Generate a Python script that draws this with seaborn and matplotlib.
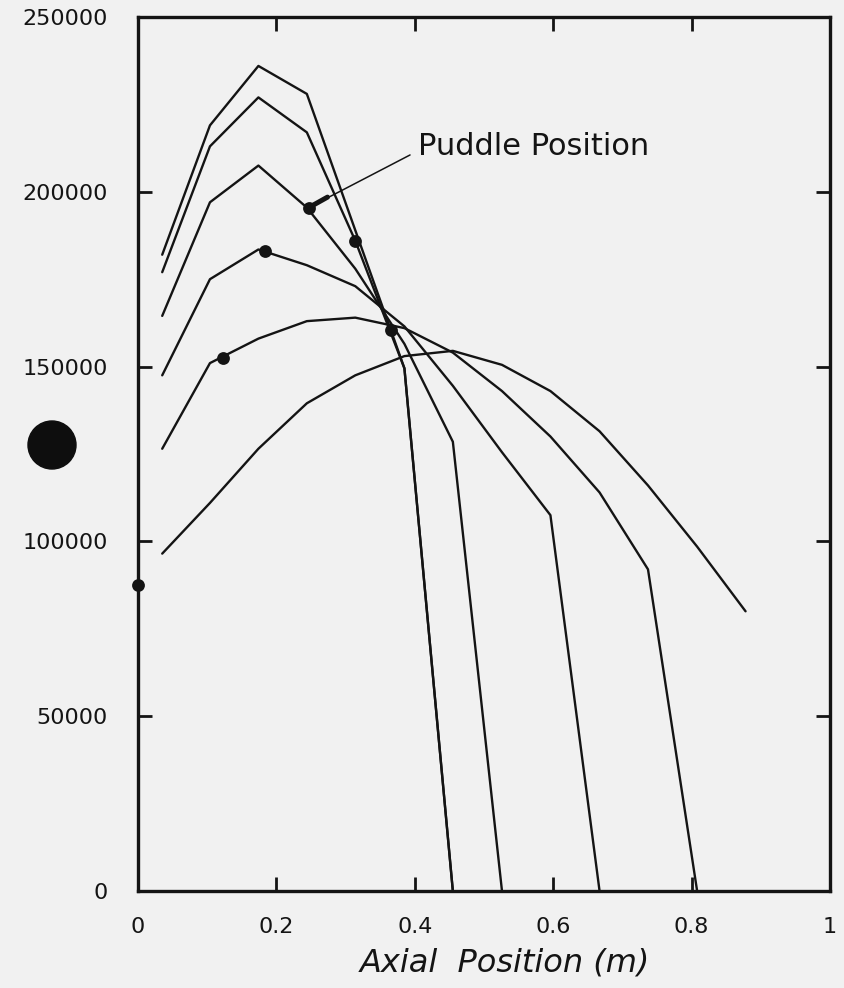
import matplotlib
matplotlib.use("Agg")
import matplotlib.pyplot as plt
from matplotlib.patches import Ellipse
import pandas as pd
import seaborn as sns

# Axial sampling nodes (m) shared by every heat-flux profile
axial_nodes = [0.035, 0.104, 0.174, 0.244, 0.314, 0.385, 0.455,
               0.526, 0.596, 0.667, 0.737, 0.808, 0.878]

# Heat-flux profiles, one value per node until the profile ends
flux_a = [182000, 219000, 236000, 228000, 189000, 149500, 0]
flux_b = [177000, 213000, 227000, 217000, 186000, 149500, 0]
flux_c = [164500, 197000, 207500, 195500, 178000, 156500, 128500, 0]
flux_d = [147500, 175000, 183500, 179000, 173000, 161500, 144500,
          125500, 107500, 0]
flux_e = [126500, 151000, 158000, 163000, 164000, 161000, 154000,
          143000, 130000, 114000, 92000, 0]
flux_f = [96500, 111000, 126500, 139500, 147500, 153000, 154500,
          150500, 143000, 131500, 116000, 98500, 80000]

# Puddle position on each profile
puddle_x = [0.0, 0.123, 0.184, 0.247, 0.314, 0.365]
puddle_y = [87500, 152500, 183000, 195500, 186000, 160500]

x_ticks = [0, 0.2, 0.4, 0.6, 0.8, 1.0]
x_tick_labels = ["0", "0.2", "0.4", "0.6", "0.8", "1"]
y_ticks = [0, 50000, 100000, 150000, 200000, 250000]
y_tick_labels = ["0", "50000", "100000", "150000", "200000", "250000"]

profiles = {"a": flux_a, "b": flux_b, "c": flux_c,
            "d": flux_d, "e": flux_e, "f": flux_f}
rows = []
for name, values in profiles.items():
    for pos, val in zip(axial_nodes, values):
        rows.append({"profile": name, "axial": pos, "flux": val})
df = pd.DataFrame(rows)

sns.set_style("ticks")
paper = "#f1f1f1"
ink = "#141414"
plt.rcParams["font.family"] = ["DejaVu Sans"]

fig = plt.figure(figsize=(8.44, 9.88), dpi=100, facecolor=paper)
ax = fig.add_axes([0.1635, 0.0982, 0.8199, 0.8846])
ax.set_facecolor(paper)

sns.lineplot(data=df, x="axial", y="flux", units="profile", estimator=None,
             sort=False, color=ink, linewidth=1.7, ax=ax, legend=False)
sns.scatterplot(x=puddle_x, y=puddle_y, color=ink, s=85, edgecolor=ink,
                linewidth=0, zorder=5, clip_on=False, ax=ax, legend=False)

# Leader from the annotation text to a puddle marker
anchor = (puddle_x[3], puddle_y[3])
text_pos = (0.405, 213000)
ax.annotate("Puddle Position", xy=anchor, xytext=text_pos,
            ha="left", va="center", fontsize=22, color=ink,
            arrowprops=dict(arrowstyle="-", lw=1.1, color=ink,
                            shrinkA=4, shrinkB=0, relpos=(0.0, 0.35)))
frac = 0.17
thick_end = (anchor[0] + frac * (text_pos[0] - anchor[0]),
             anchor[1] + frac * (text_pos[1] - anchor[1]))
ax.annotate("", xy=anchor, xytext=thick_end,
            arrowprops=dict(arrowstyle="-", lw=3.6, color=ink,
                            shrinkA=0, shrinkB=0))

ax.set_xlim(0, 1)
ax.set_ylim(0, 250000)
ax.set_xticks(x_ticks)
ax.set_xticklabels(x_tick_labels)
ax.set_yticks(y_ticks)
ax.set_yticklabels(y_tick_labels)
ax.tick_params(axis="both", direction="in", length=10, width=2,
               color=ink, labelcolor=ink, labelsize=16,
               top=True, right=True, labeltop=False, labelright=False)
ax.tick_params(axis="y", pad=22)
ax.tick_params(axis="x", pad=19)
for side in ["left", "right", "top", "bottom"]:
    ax.spines[side].set_visible(True)
    ax.spines[side].set_color(ink)
    ax.spines[side].set_linewidth(2.4)

ax.set_xlabel("Axial  Position (m)", fontsize=23, fontstyle="italic",
              color=ink, labelpad=7)
ax.xaxis.label.set_x(0.53)
ax.set_ylabel("")

# Binder hole punched through the sheet margin
fig.add_artist(Ellipse((52 / 844, 1 - 445 / 988), 48 / 844, 48 / 988,
                       transform=fig.transFigure, color="#0e0e0e"))

fig.savefig("out.png", dpi=100, facecolor=paper)
